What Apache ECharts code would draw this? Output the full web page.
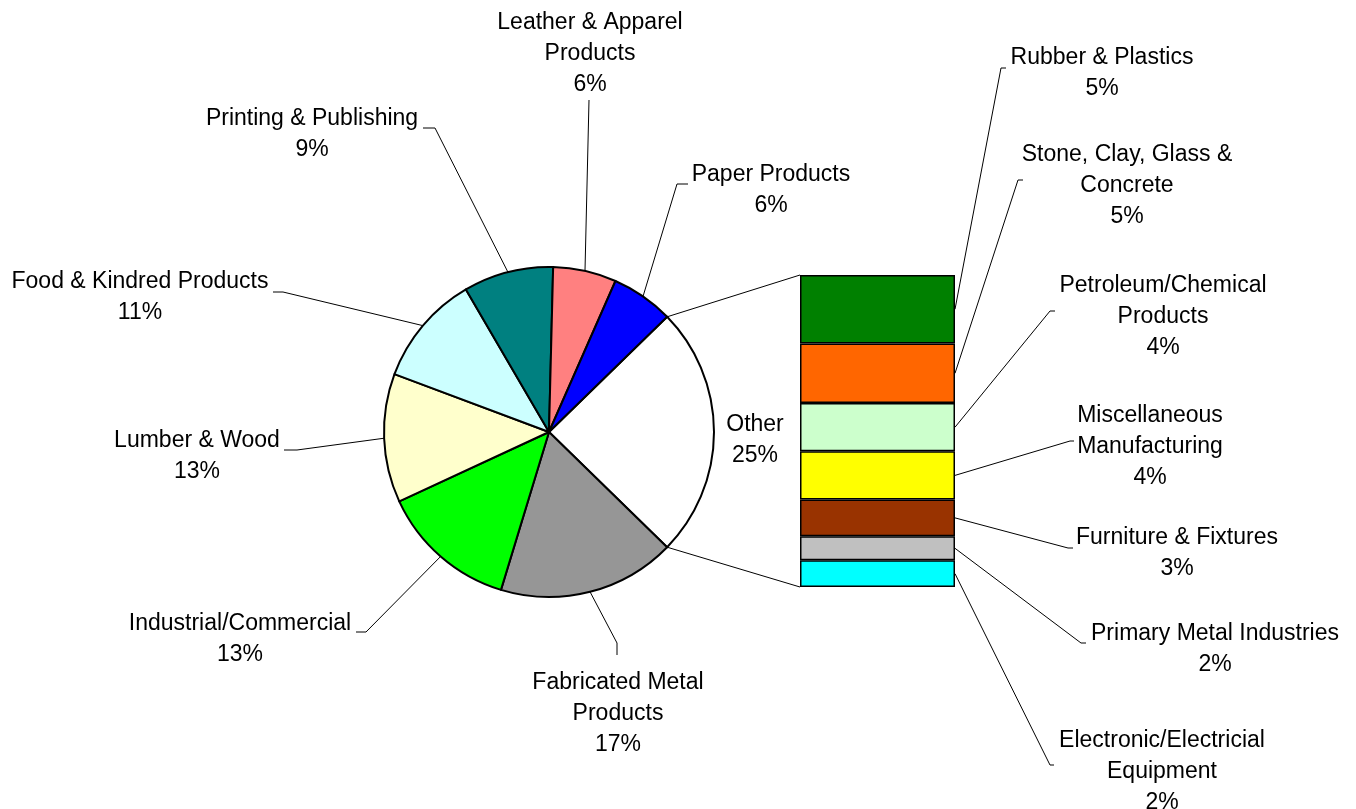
<!DOCTYPE html>
<html>
<head>
<meta charset="utf-8">
<script src="https://cdn.jsdelivr.net/npm/echarts@6/dist/echarts.min.js"></script>
<style>
html,body{margin:0;padding:0;background:#fff;}
#chart{width:1356px;height:809px;}
</style>
</head>
<body>
<div id="chart"></div>
<script>
// ---- data ----
const pieNames = ['Other', 'Fabricated Metal\nProducts', 'Industrial/Commercial', 'Lumber & Wood',
  'Food & Kindred Products', 'Printing & Publishing', 'Leather & Apparel\nProducts', 'Paper Products'];
const pieValues = [24.6, 17.4, 13.4, 12.6, 10.9, 8.8, 6.2, 6.1];
const otherNames = ['Rubber & Plastics', 'Stone, Clay, Glass &\nConcrete', 'Petroleum/Chemical\nProducts',
  'Miscellaneous\nManufacturing', 'Furniture & Fixtures', 'Primary Metal Industries',
  'Electronic/Electricial\nEquipment'];
const otherValues = [5.4, 4.7, 3.8, 3.8, 2.9, 1.9, 2.1];

// ---- styles ----
const pieColors = ['#FFFFFF', '#969696', '#00FF00', '#FFFFCC', '#CCFFFF', '#008080', '#FF8080', '#0000FF'];
const barColors = ['#008000', '#FF6600', '#CCFFCC', '#FFFF00', '#993300', '#C0C0C0', '#00FFFF'];
const FONT = "'Liberation Sans', Arial, sans-serif";

// ---- layout ----
const PIE_C = [549, 432], PIE_R = 165;
const GRID = {left: 800, top: 275, width: 155, height: 312};
// label centre, leader elbow, leader end (pie order)
const pieLabelPos = [
  {c: [755, 440]},
  {c: [618, 714], e: [617, 643], t: [617, 655]},
  {c: [240, 639], e: [366, 632], t: [356, 632]},
  {c: [197, 456], e: [297, 450], t: [284, 450]},
  {c: [140, 297], e: [283, 292], t: [273, 292]},
  {c: [312, 134], e: [435, 128], t: [423, 128]},
  {c: [590, 54],  e: [589, 100], t: [589, 100]},
  {c: [771, 190], e: [677, 184], t: [688, 184]}
];
const barLabelPos = [
  {c: [1102, 73],  e: [1001, 68],  t: [1006, 68]},
  {c: [1127, 186], e: [1018, 180], t: [1023, 180]},
  {c: [1163, 317], e: [1050, 311], t: [1055, 311]},
  {c: [1150, 447], e: [1070, 441], t: [1074, 441]},
  {c: [1177, 553], e: [1068, 548], t: [1073, 548]},
  {c: [1215, 649], e: [1081, 643], t: [1086, 643]},
  {c: [1162, 772], e: [1050, 765], t: [1054, 765]}
];

const pieTotal = pieValues.reduce((a, b) => a + b, 0);
const barTotal = otherValues.reduce((a, b) => a + b, 0);
const startAngle = pieValues[0] / pieTotal * 360 / 2;

function piePoint(cumValue) {
  const th = (-startAngle + cumValue / pieTotal * 360) * Math.PI / 180;
  return [PIE_C[0] + PIE_R * Math.cos(th), PIE_C[1] + PIE_R * Math.sin(th)];
}
function pieMidPoint(i) {
  let before = 0;
  for (let k = 0; k < i; k++) before += pieValues[k];
  return piePoint(before + pieValues[i] / 2);
}

const labelText = {color: '#000', fontFamily: FONT, fontSize: 23, lineHeight: 31};
const leader = {show: true, lineStyle: {color: '#000', width: 1}};

const series = [{
  type: 'pie',
  center: PIE_C,
  radius: PIE_R,
  startAngle: startAngle,
  clockwise: true,
  avoidLabelOverlap: false,
  itemStyle: {borderColor: '#000', borderWidth: 2},
  label: Object.assign({show: true, position: 'outside',
    formatter: p => p.name + '\n' + Math.round(p.percent) + '%'}, labelText),
  labelLine: leader,
  labelLayout: function (p) {
    const L = pieLabelPos[p.dataIndex];
    const r = {x: L.c[0], y: L.c[1], align: 'center', verticalAlign: 'middle'};
    if (L.e) r.labelLinePoints = [pieMidPoint(p.dataIndex), L.e, L.t];
    return r;
  },
  data: pieNames.map((n, i) => ({
    name: n, value: pieValues[i],
    itemStyle: {color: pieColors[i]},
    labelLine: {show: i !== 0}
  }))
}];

otherNames.forEach((n, i) => {
  series.push({
    type: 'bar',
    name: n,
    stack: 'other',
    barWidth: '100%',
    data: [otherValues[i]],
    itemStyle: {color: barColors[i], borderColor: '#000', borderWidth: 1.5},
    label: Object.assign({show: true, position: 'right',
      formatter: p => p.seriesName + '\n' + Math.round(p.value) + '%'}, labelText),
    labelLine: {show: false},
    labelLayout: function () {
      const L = barLabelPos[i];
      return {x: L.c[0], y: L.c[1], align: 'center', verticalAlign: 'middle'};
    }
  });
});

const chart = echarts.init(document.getElementById('chart'), null, {renderer: 'canvas'});
chart.setOption({
  animation: false,
  backgroundColor: '#fff',
  grid: Object.assign({containLabel: false}, GRID),
  xAxis: {type: 'category', data: ['Other'], show: false},
  yAxis: {type: 'value', inverse: true, min: 0, max: barTotal, show: false, splitLine: {show: false}},
  series: series
});

// connectors between the "Other" slice and the stacked bar, plus bar leader lines
const topPie = piePoint(0);
const botPie = piePoint(pieValues[0]);
const cx = chart.convertToPixel({xAxisIndex: 0}, 'Other');
const barLeft = cx - GRID.width / 2;
const barRight = cx + GRID.width / 2;
const yTop = chart.convertToPixel({yAxisIndex: 0}, 0);
const yBot = chart.convertToPixel({yAxisIndex: 0}, barTotal);
const lineStyle = {stroke: '#000', lineWidth: 1, fill: null};
const graphics = [
  {type: 'line', z: 0, shape: {x1: topPie[0], y1: topPie[1], x2: barLeft, y2: yTop}, style: lineStyle},
  {type: 'line', z: 0, shape: {x1: botPie[0], y1: botPie[1], x2: barLeft, y2: yBot}, style: lineStyle}
];
let cum = 0;
otherValues.forEach((v, i) => {
  const yMid = chart.convertToPixel({yAxisIndex: 0}, cum + v / 2);
  cum += v;
  const L = barLabelPos[i];
  graphics.push({type: 'polyline', z: 0,
    shape: {points: [[barRight, yMid], L.e, L.t]}, style: lineStyle});
});
chart.setOption({graphic: graphics});
</script>
</body>
</html>
